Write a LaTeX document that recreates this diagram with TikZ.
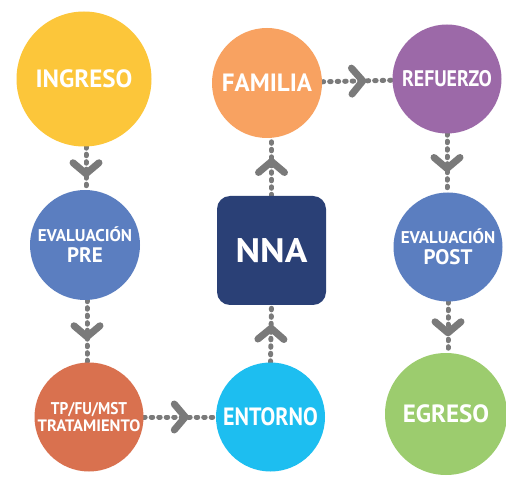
\documentclass[tikz,border=0pt]{standalone}
\usepackage{fontspec}
\newfontfamily\lblfont{PT Sans}
\usetikzlibrary{backgrounds,decorations.markings}
\definecolor{cyellow}{RGB}{252,198,58}
\definecolor{corange}{RGB}{248,162,97}
\definecolor{cpurple}{RGB}{156,105,168}
\definecolor{cblue}{RGB}{91,126,192}
\definecolor{cnavy}{RGB}{42,64,118}
\definecolor{cred}{RGB}{217,113,79}
\definecolor{ccyan}{RGB}{29,190,240}
\definecolor{cgreen}{RGB}{156,204,110}
\definecolor{cgray}{RGB}{122,122,122}
\newcommand\narrowed[1]{\addfontfeature{FakeStretch=#1}}
\begin{document}
\begin{tikzpicture}[x=1pt,y=-1pt,
  bubble/.style={circle,inner sep=0pt,text=white,align=center},
  dots/.style={draw=cgray,line width=5pt,line cap=round,dash pattern=on 1.5pt off 6pt},
  chev/.style={draw=cgray,line width=7pt,line cap=round,line join=round,solid},
  flow/.style={dots,postaction={decorate},decoration={markings,
     mark=at position 0.5 with {\draw[chev] (-5.5pt,13pt) -- (5.5pt,0pt) -- (-5.5pt,-13pt);}}}
]
\useasboundingbox (0,0) rectangle (506,478);
\node[bubble,fill=cyellow,minimum size=135pt,font=\lblfont\bfseries\fontsize{25}{28}\selectfont] (ing) at (84,79) {INGRESO};
\node[bubble,fill=corange,minimum size=110pt,font=\lblfont\bfseries\fontsize{25}{28}\selectfont] (fam) at (267,83) {FAMILIA};
\node[bubble,fill=cpurple,minimum size=109pt,font=\lblfont\bfseries\narrowed{0.88}\fontsize{22.5}{26}\selectfont] (ref) at (447,79) {REFUERZO};
\node[bubble,fill=cblue,minimum size=110pt,font=\lblfont\bfseries\fontsize{17}{21}\selectfont] (evpre) at (85,245)
  {EVALUACIÓN\\{\fontsize{21}{21}\selectfont PRE}};
\node[draw=none,fill=cnavy,rounded corners=13pt,minimum width=109pt,minimum height=109pt,inner sep=0pt,
  text=white,font=\lblfont\bfseries\narrowed{1.1}\fontsize{34}{36}\selectfont] (nna) at (271.5,250.5) {NNA};
\node[bubble,fill=cblue,minimum size=109pt,font=\lblfont\bfseries\fontsize{17}{21}\selectfont] (evpost) at (448,247)
  {EVALUACIÓN\\{\fontsize{21}{21}\selectfont POST}};
\node[bubble,fill=cred,minimum size=109pt,font=\lblfont\bfseries\fontsize{16.5}{17}\selectfont] (tp) at (89,417)
  {{\narrowed{0.9}\fontsize{17}{17}\selectfont TP/FU/MST}\\TRATAMIENTO};
\node[bubble,fill=ccyan,minimum size=109pt,font=\lblfont\bfseries\narrowed{0.88}\fontsize{25}{28}\selectfont] (ent) at (270.5,417) {ENTORNO};
\node[bubble,fill=cgreen,minimum size=122pt,font=\lblfont\bfseries\fontsize{25}{28}\selectfont] (egr) at (446,414) {EGRESO};
\begin{pgfonlayer}{background}
\fill[white] (0,0) rectangle (506,478);
\draw[flow] (ing.south -| 86,0) -- (evpre.north -| 86,0);
\draw[flow] (evpre.south -| 87,0) -- (tp.north -| 87,0);
\draw[flow] (tp) -- (ent);
\draw[flow] (ent.north) -- (nna.south);
\draw[flow] (nna.north) -- (nna.north |- fam.south);
\draw[flow] (fam) -- (ref);
\draw[flow] (ref.south) -- (ref.south |- evpost.north);
\draw[flow] (evpost.south) -- (evpost.south |- egr.north);
\end{pgfonlayer}
\end{tikzpicture}
\end{document}
